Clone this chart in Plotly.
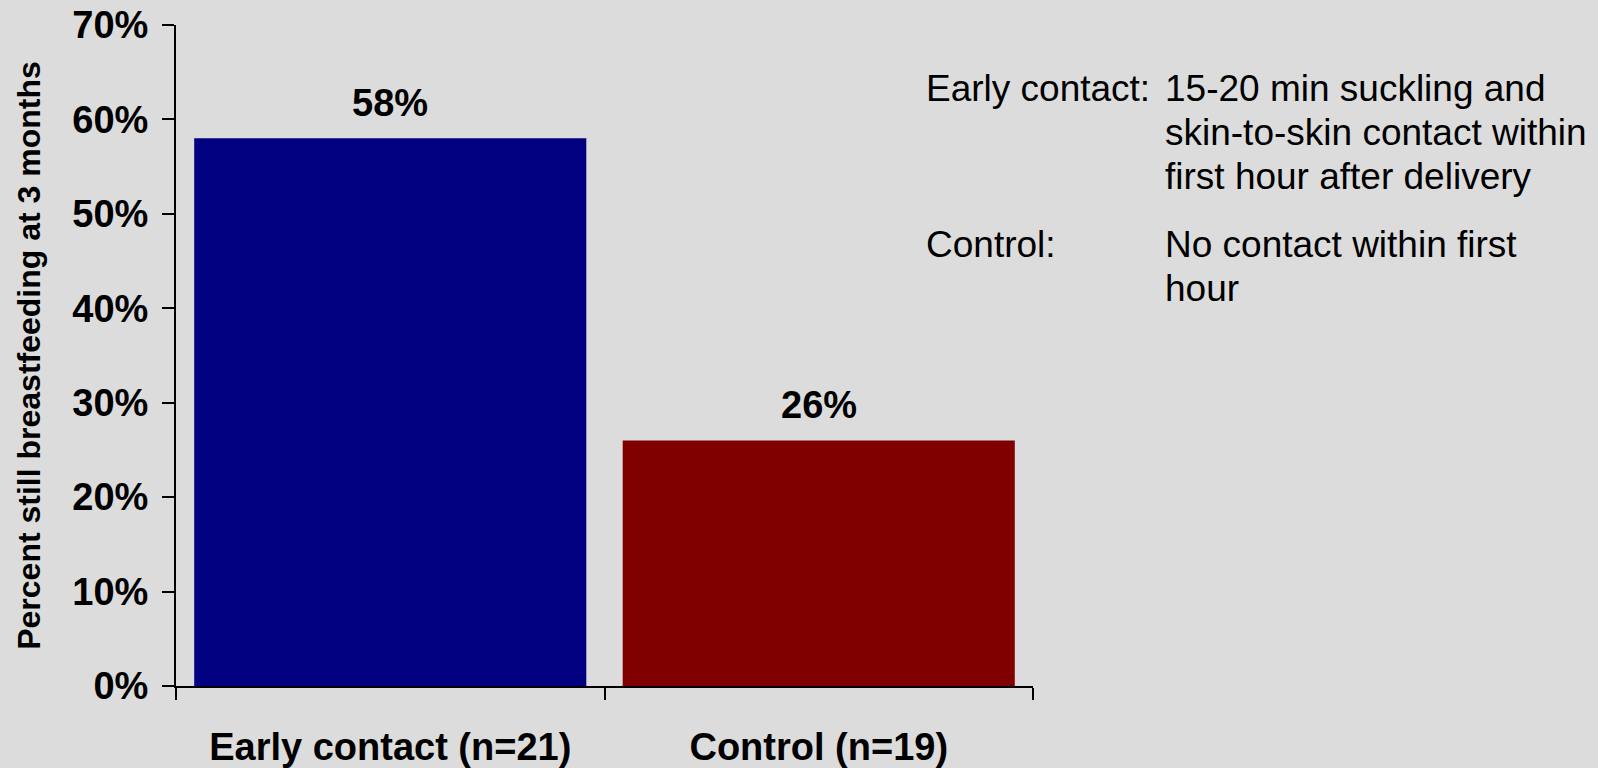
import plotly.graph_objects as go

# data
categories = ["Early contact (n=21)", "Control (n=19)"]
still_breastfeeding = [0.58, 0.26]
bar_colors = ["#000080", "#800000"]
tick_values = [0, 0.1, 0.2, 0.3, 0.4, 0.5, 0.6, 0.7]
tick_labels = ["0%", "10%", "20%", "30%", "40%", "50%", "60%", "70%"]

note_labels = ["Early contact:", "Control:"]
note_lines = [
    ["15-20 min suckling and", "skin-to-skin contact within", "first hour after delivery"],
    ["No contact within first", "hour"],
]

W, H = 1598, 768
L, R, T, B = 176, 565, 25, 82


def px_to_paper(px, py):
    return (px - L) / (W - L - R), (H - B - py) / (H - T - B)


fig = go.Figure()
fig.add_trace(go.Bar(
    x=categories,
    y=still_breastfeeding,
    marker=dict(color=bar_colors, line=dict(width=0)),
    hoverinfo="skip",
))

bold = dict(family="Liberation Sans, Arial, sans-serif", color="black")
plain = dict(size=37, family="Liberation Sans, Arial, sans-serif", color="black")

annotations = []
for cat, val in zip(categories, still_breastfeeding):
    annotations.append(dict(
        x=cat, y=val, xref="x", yref="y",
        text="<b>%d%%</b>" % round(val * 100),
        showarrow=False, yanchor="middle", yshift=35,
        font=dict(size=38, **bold),
    ))

# notes on the right
line_y = [[88, 132, 176], [244, 288]]
for label, lines, ys in zip(note_labels, note_lines, line_y):
    x0, y0 = px_to_paper(924, ys[0])
    annotations.append(dict(
        x=x0, y=y0, xref="paper", yref="paper", text=label,
        showarrow=False, xanchor="left", yanchor="middle", font=plain,
    ))
    for line, yy in zip(lines, ys):
        x1, y1 = px_to_paper(1163, yy)
        annotations.append(dict(
            x=x1, y=y1, xref="paper", yref="paper", text=line,
            showarrow=False, xanchor="left", yanchor="middle", font=plain,
        ))

fig.update_layout(
    width=W, height=H,
    margin=dict(l=L, r=R, t=T, b=B, pad=0, autoexpand=False),
    paper_bgcolor="#dcdcdc",
    plot_bgcolor="rgba(0,0,0,0)",
    bargap=0.085,
    showlegend=False,
    annotations=annotations,
    xaxis=dict(
        automargin=False,
        showline=True, linecolor="black", linewidth=2,
        ticks="outside", ticklen=12, tickwidth=2, tickcolor="black",
        tickson="boundaries", showgrid=False,
        tickfont=dict(size=38, **bold),
        tickvals=categories,
        ticktext=["<b>%s</b>" % c for c in categories],
        ticklabelstandoff=26,
    ),
    yaxis=dict(
        automargin=False,
        range=[0, 0.7],
        showline=True, linecolor="black", linewidth=2,
        ticks="outside", ticklen=12, tickwidth=2, tickcolor="black",
        showgrid=False, zeroline=False,
        tickvals=tick_values,
        ticktext=["<b>%s</b>" % t for t in tick_labels],
        tickfont=dict(size=38, **bold),
        ticklabelstandoff=6,
        title=dict(text="<b>Percent still breastfeeding at 3 months</b>",
                   font=dict(size=32, **bold), standoff=22),
    ),
)

# drop the default body margin so the figure sits flush in the window
fig.write_html(
    "out.html",
    config={"displayModeBar": False},
    post_script="document.body.style.margin='0';document.body.style.overflow='hidden';",
)
